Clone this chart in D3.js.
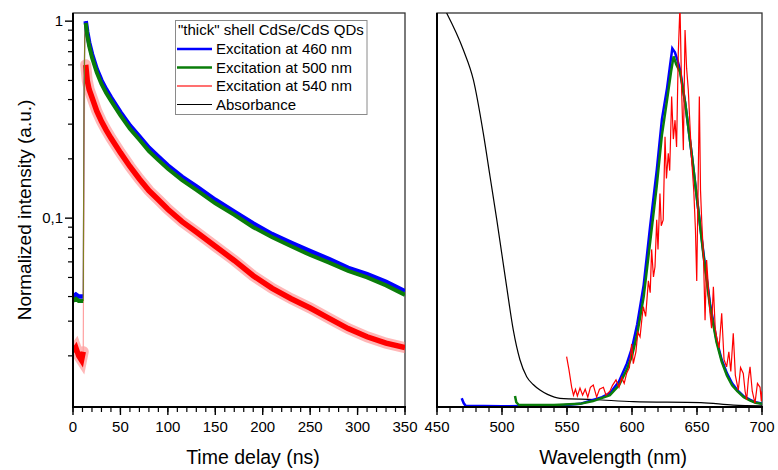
<!DOCTYPE html>
<html>
<head>
<meta charset="utf-8">
<script src="https://cdn.jsdelivr.net/npm/d3@7"></script>
<style>
body{margin:0;background:#fff;}
svg text{font-family:"Liberation Sans",Arial,sans-serif;fill:#000;}
</style>
</head>
<body>
<div id="chart"></div>
<script>
// left panel : decay traces (log scale)
var time_ns  = [0, 3, 6, 9, 10.8, 11.6, 12.4, 13.4, 15, 17, 20, 25, 30, 35, 40, 50, 60, 70, 80, 90, 100, 115, 130, 150, 170, 190, 210, 230, 250, 270, 290, 310, 330, 350];
var decay_460 = [0.040, 0.041, 0.040, 0.040, 0.040, 0.40, 0.85, 1.0, 0.88, 0.78, 0.68, 0.57, 0.50, 0.45, 0.41, 0.345, 0.295, 0.26, 0.228, 0.205, 0.185, 0.162, 0.145, 0.124, 0.108, 0.094, 0.083, 0.075, 0.068, 0.062, 0.056, 0.052, 0.0475, 0.0425];
var decay_500 = [0.038, 0.039, 0.038, 0.038, 0.038, 0.38, 0.82, 0.98, 0.85, 0.75, 0.655, 0.55, 0.48, 0.432, 0.395, 0.332, 0.284, 0.25, 0.219, 0.197, 0.178, 0.156, 0.139, 0.119, 0.104, 0.090, 0.080, 0.072, 0.065, 0.0595, 0.054, 0.050, 0.0456, 0.0408];
var decay_540 = [0.021, 0.022, 0.020, 0.019, 0.021, 0.20, 0.50, 0.60, 0.50, 0.45, 0.41, 0.35, 0.31, 0.28, 0.255, 0.215, 0.183, 0.158, 0.138, 0.124, 0.111, 0.096, 0.085, 0.072, 0.061, 0.051, 0.044, 0.039, 0.035, 0.031, 0.0275, 0.025, 0.0232, 0.022];
var rise_start = 4, rise_end = 7; // indexes: rise from baseline to the peak

// right panel : PL spectra and absorbance (linear, no y ticks)
var wl_460 = [469, 470.5, 472, 500, 530, 545, 560, 570, 577, 583, 590, 596, 600, 604, 609, 614, 619, 623, 627, 629, 631, 633, 635, 637, 641, 646, 651, 655, 660, 665, 669, 673, 677, 681, 686, 691, 695, 700];
var pl_460 = [0.022, 0.01, 0.003, 0.002, 0.003, 0.004, 0.008, 0.018, 0.025, 0.035, 0.065, 0.11, 0.15, 0.21, 0.31, 0.46, 0.60, 0.73, 0.81, 0.86, 0.91, 0.90, 0.88, 0.855, 0.77, 0.64, 0.50, 0.39, 0.263, 0.17, 0.12, 0.086, 0.06, 0.043, 0.027, 0.018, 0.012, 0.009];
var wl_500 = [510, 511, 513, 540, 560, 570, 583, 590, 596, 600, 604, 609, 614, 619, 623, 627, 630, 632, 634, 637, 641, 646, 651, 655, 660, 665, 669, 673, 677, 681, 686, 691, 695, 700];
var pl_500 = [0.028, 0.012, 0.005, 0.005, 0.008, 0.015, 0.03, 0.055, 0.095, 0.13, 0.185, 0.28, 0.42, 0.56, 0.69, 0.78, 0.85, 0.89, 0.87, 0.85, 0.77, 0.64, 0.50, 0.385, 0.255, 0.165, 0.115, 0.08, 0.055, 0.04, 0.025, 0.016, 0.011, 0.008];
var wl_540 = [549.7, 551.5, 553.6, 555, 556.5, 558, 560, 562, 564, 566, 568, 570.2, 572.8, 575, 578, 580, 583, 585, 587.7, 590, 592, 594, 595.9, 598, 599.7, 601, 603, 604.5, 606.2, 607.5, 608.7, 610.5, 612.6, 614, 615.1, 616.5, 617.7, 619, 620, 621.5, 622.5, 624, 625.4, 626.5, 627.9, 629, 630.5, 631.8, 633.1, 634.3, 635.6, 636.9, 638.2, 639.5, 640.8, 642, 643.3, 644.5, 645.9, 647.5, 648.8, 649.8, 650.8, 651.8, 652.7, 653.6, 655, 656.2, 657.4, 658.8, 660, 661.2, 662.6, 664, 665.1, 667, 669, 670.8, 672.8, 674.5, 676, 677.9, 679.5, 681.8, 683.5, 685.6, 687, 688.2, 689.5, 690.8, 692.5, 694.6, 696.5, 698.5, 699.5, 700];
var pl_540 = [0.128, 0.095, 0.05, 0.03, 0.045, 0.028, 0.048, 0.03, 0.045, 0.025, 0.05, 0.056, 0.025, 0.045, 0.05, 0.03, 0.04, 0.055, 0.069, 0.05, 0.075, 0.06, 0.086, 0.1, 0.16, 0.11, 0.14, 0.19, 0.178, 0.22, 0.255, 0.23, 0.32, 0.29, 0.40, 0.33, 0.356, 0.475, 0.40, 0.542, 0.46, 0.475, 0.686, 0.58, 0.644, 0.60, 0.788, 0.68, 0.728, 0.66, 0.898, 1.02, 0.80, 0.652, 0.957, 0.86, 0.805, 0.72, 0.627, 0.55, 0.45, 0.32, 0.55, 0.788, 0.55, 0.475, 0.38, 0.22, 0.373, 0.30, 0.238, 0.20, 0.305, 0.20, 0.178, 0.15, 0.238, 0.12, 0.102, 0.14, 0.09, 0.187, 0.08, 0.043, 0.10, 0.085, 0.04, 0.018, 0.07, 0.102, 0.04, 0.01, 0.06, 0.05, 0.015, 0.04];
var wl_abs = [457.4, 470.3, 478, 485.6, 490.8, 496, 499.8, 503.6, 508.7, 513.8, 519, 524, 529.2, 535, 544.6, 571, 601, 653, 678, 700];
var absorbance = [1.0, 0.906, 0.83, 0.695, 0.585, 0.475, 0.39, 0.305, 0.195, 0.12, 0.077, 0.057, 0.043, 0.032, 0.022, 0.019, 0.0135, 0.011, 0.005, 0.003];

var time_ticks = [0, 50, 100, 150, 200, 250, 300, 350];
var wl_ticks = [450, 500, 550, 600, 650, 700];
var y_major = [1, 0.1];
var y_major_labels = ["1", "0,1"];
var legend_title = '"thick" shell CdSe/CdS QDs';
var legend_items = ["Excitation at 460 nm", "Excitation at 500 nm", "Excitation at 540 nm", "Absorbance"];

var W = 778, H = 470;
var plotTop = 13, plotBot = 407;
var L = {x0: 73, x1: 405};
var R = {x0: 437, x1: 762};

var svg = d3.select("#chart").append("svg").attr("width", W).attr("height", H);

function zip(xs, ys){
	var out = [];
	for(var i=0;i<xs.length;i++) out.push([xs[i], ys[i]]);
	return out;
}

// scales
var xT = d3.scaleLinear().domain([0, 350]).range([L.x0, L.x1]);
var yT = d3.scaleLog().domain([0.011, 1.1]).range([plotBot, plotTop]);
var xW = d3.scaleLinear().domain([450, 700]).range([R.x0, R.x1]);
var yW = d3.scaleLinear().domain([0, 1]).range([plotBot, plotTop]);

var defs = svg.append("defs");
defs.append("clipPath").attr("id", "clipL").append("rect")
	.attr("x", L.x0).attr("y", plotTop).attr("width", L.x1-L.x0).attr("height", plotBot-plotTop);
defs.append("clipPath").attr("id", "clipR").append("rect")
	.attr("x", R.x0).attr("y", plotTop).attr("width", R.x1-R.x0).attr("height", plotBot-plotTop);

// frames
[L, R].forEach(function(p){
	svg.append("rect").attr("x", p.x0).attr("y", plotTop).attr("width", p.x1-p.x0).attr("height", plotBot-plotTop)
		.attr("fill", "none").attr("stroke", "#333").attr("stroke-width", 1.3);
});

// ---- left panel curves
var lineT = d3.line().x(function(d){ return xT(d[0]); }).y(function(d){ return yT(d[1]); });
var gL = svg.append("g").attr("clip-path", "url(#clipL)");

// noisy traces are drawn as a band (thick stroke) before and after the rise, the rise itself is thin
function decayTrace(vals, color, band, core, riseColor){
	var pts = zip(time_ns, vals);
	var pre = pts.slice(0, rise_start+1), post = pts.slice(rise_end), rise = pts.slice(rise_start, rise_end+1);
	if(band){
		[pre, post].forEach(function(p){
			gL.append("path").attr("d", lineT(p)).attr("fill", "none")
				.attr("stroke", "#ff7070").attr("stroke-opacity", 0.5).attr("stroke-width", band)
				.attr("stroke-linecap", "round");
		});
	}
	gL.append("path").attr("d", lineT(rise)).attr("fill", "none").attr("stroke", riseColor).attr("stroke-width", 1.2);
	[pre, post].forEach(function(p){
		gL.append("path").attr("d", lineT(p)).attr("fill", "none")
			.attr("stroke", color).attr("stroke-width", core).attr("stroke-linecap", "butt");
	});
}
decayTrace(decay_540, "#ff0000", 11, 5.5, "#ffa0a0");
decayTrace(decay_460, "#0000ff", 0, 4.5, "#8040c0");
decayTrace(decay_500, "#0a7d0a", 0, 4, "#808020");

// ---- right panel curves
var lineW = d3.line().x(function(d){ return xW(d[0]); }).y(function(d){ return yW(d[1]); });
var gR = svg.append("g").attr("clip-path", "url(#clipR)");
gR.append("path").attr("d", lineW.curve(d3.curveMonotoneX)(zip(wl_abs, absorbance))).attr("fill", "none")
	.attr("stroke", "#000").attr("stroke-width", 1.2);
lineW.curve(d3.curveLinear);
gR.append("path").attr("d", lineW(zip(wl_460, pl_460))).attr("fill", "none")
	.attr("stroke", "#0000ff").attr("stroke-width", 2.5);
gR.append("path").attr("d", lineW(zip(wl_500, pl_500))).attr("fill", "none")
	.attr("stroke", "#0a7d0a").attr("stroke-width", 2.5);
gR.append("path").attr("d", lineW(zip(wl_540, pl_540))).attr("fill", "none")
	.attr("stroke", "#ff0000").attr("stroke-width", 1.2);

// ---- axes
function xAxis(scale, ticks, lo, hi){
	var g = svg.append("g").attr("transform", "translate(0," + plotBot + ")");
	var minor = d3.range(lo, hi + 0.1, 10);
	g.selectAll(".mn").data(minor).enter().append("line")
		.attr("x1", function(d){ return scale(d); }).attr("x2", function(d){ return scale(d); })
		.attr("y1", 0).attr("y2", 5).attr("stroke", "#000").attr("stroke-width", 1.2);
	g.selectAll(".mj").data(ticks).enter().append("line")
		.attr("x1", function(d){ return scale(d); }).attr("x2", function(d){ return scale(d); })
		.attr("y1", 0).attr("y2", 8).attr("stroke", "#000").attr("stroke-width", 1.4);
	g.selectAll(".lb").data(ticks).enter().append("text")
		.attr("x", function(d){ return scale(d); }).attr("y", 25)
		.attr("text-anchor", "middle").attr("font-size", 15).text(function(d){ return d; });
	g.append("line").attr("x1", scale.range()[0]-1).attr("x2", scale.range()[1]+1)
		.attr("stroke", "#000").attr("stroke-width", 2);
}
xAxis(xT, time_ticks, 0, 350);
xAxis(xW, wl_ticks, 450, 700);

// left log axis
var yMinor = [];
[0.01, 0.1].forEach(function(dec){
	for(var k=2;k<=9;k++) yMinor.push(dec*k);
});
var gy = svg.append("g").attr("transform", "translate(" + L.x0 + ",0)");
gy.selectAll(".mn").data(yMinor).enter().append("line")
	.attr("x1", -5).attr("x2", 0)
	.attr("y1", function(d){ return yT(d); }).attr("y2", function(d){ return yT(d); })
	.attr("stroke", "#000").attr("stroke-width", 1.2);
gy.selectAll(".mj").data(y_major).enter().append("line")
	.attr("x1", -8).attr("x2", 0)
	.attr("y1", function(d){ return yT(d); }).attr("y2", function(d){ return yT(d); })
	.attr("stroke", "#000").attr("stroke-width", 1.4);
gy.selectAll(".lb").data(y_major).enter().append("text")
	.attr("x", -10).attr("y", function(d){ return yT(d) + 5; })
	.attr("text-anchor", "end").attr("font-size", 15)
	.text(function(d, i){ return y_major_labels[i]; });
gy.append("line").attr("y1", plotTop).attr("y2", plotBot+1).attr("stroke", "#000").attr("stroke-width", 2);
// right panel left edge is drawn bold as well
svg.append("line").attr("x1", R.x0).attr("x2", R.x0).attr("y1", plotTop).attr("y2", plotBot+1)
	.attr("stroke", "#000").attr("stroke-width", 2);

// axis titles
svg.append("text").attr("x", 253).attr("y", 464).attr("text-anchor", "middle")
	.attr("font-size", 19.5).text("Time delay (ns)");
svg.append("text").attr("x", 613).attr("y", 464).attr("text-anchor", "middle")
	.attr("font-size", 19.5).text("Wavelength (nm)");
svg.append("text").attr("transform", "translate(31,210) rotate(-90)").attr("text-anchor", "middle")
	.attr("font-size", 19).text("Normalized intensity (a.u.)");

// legend
var lg = svg.append("g");
lg.append("rect").attr("x", 175.5).attr("y", 20.5).attr("width", 191.5).attr("height", 94)
	.attr("fill", "#fff").attr("stroke", "#8a8a8a").attr("stroke-width", 1);
lg.append("text").attr("x", 178).attr("y", 35).attr("font-size", 15).text(legend_title);
var lg_colors = ["#0000ff", "#0a7d0a", "#ff4040", "#000"];
var lg_widths = [2.5, 2.5, 1.5, 1];
legend_items.forEach(function(name, i){
	var yy = 54 + i*18.5;
	lg.append("line").attr("x1", 177).attr("x2", 212).attr("y1", yy-5).attr("y2", yy-5)
		.attr("stroke", lg_colors[i]).attr("stroke-width", lg_widths[i]);
	lg.append("text").attr("x", 216).attr("y", yy).attr("font-size", 15).text(name);
});
</script>
</body>
</html>
